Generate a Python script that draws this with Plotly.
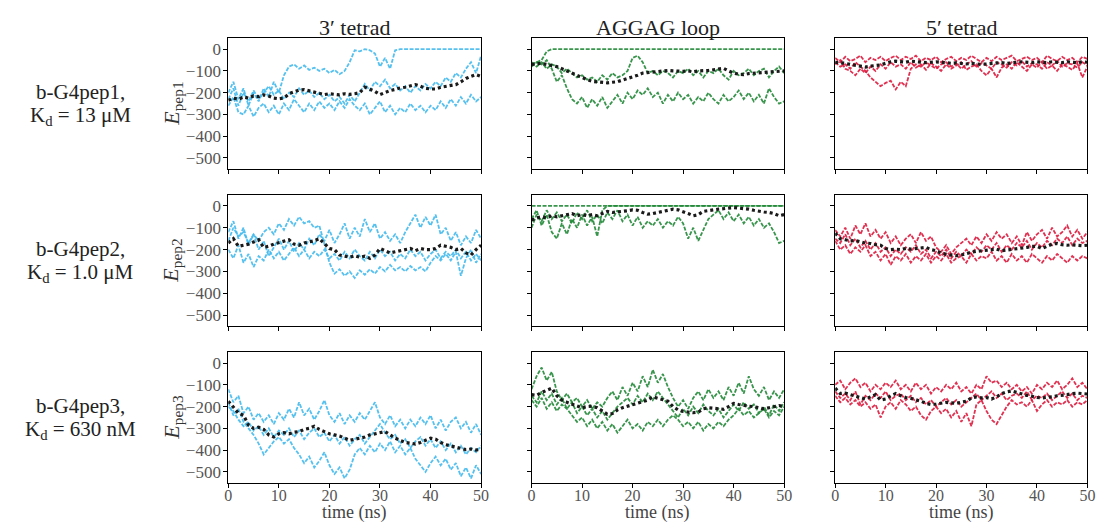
import plotly.graph_objects as go

# ---------------- data ----------------
time_ns = list(range(51))
x_ticks = [0, 10, 20, 30, 40, 50]
y_ticks = [0, -100, -200, -300, -400, -500]
col_titles = ["3\u2032 tetrad", "AGGAG loop", "5\u2032 tetrad"]
row_line1 = ["b-G4pep1,", "b-G4pep2,", "b-G4pep3,"]
row_line2 = ["K<sub>d</sub> = 13 \u03bcM", "K<sub>d</sub> = 1.0 \u03bcM", "K<sub>d</sub> = 630 nM"]
y_titles = ["<i>E</i><sub>pep1</sub>", "<i>E</i><sub>pep2</sub>", "<i>E</i><sub>pep3</sub>"]

# row 1 : b-G4pep1
pep1_3p_a = [-200,-150,-230,-180,-260,-200,-240,-180,-220,-150,
             -200,-120,-80,-70,-90,-75,-95,-85,-100,-90,
             -110,-95,-115,-100,-60,-5,-10,0,-5,-20,
             -80,-40,-90,-5,0,0,0,0,0,0,
             0,0,0,0,0,0,0,0,0,0,0]
pep1_3p_b = [-230,-180,-260,-200,-240,-190,-230,-200,-170,-210,
             -190,-230,-200,-220,-180,-210,-190,-220,-200,-230,
             -210,-240,-220,-250,-210,-240,-200,-160,-190,-150,
             -170,-140,-180,-160,-190,-170,-200,-170,-190,-160,
             -180,-150,-170,-130,-150,-110,-130,-90,-60,-110,-30]
pep1_3p_c = [-260,-220,-290,-300,-260,-310,-270,-250,-290,-260,
             -300,-250,-280,-230,-260,-290,-250,-280,-240,-270,
             -250,-280,-240,-270,-230,-260,-280,-250,-300,-270,
             -240,-290,-260,-300,-270,-290,-250,-280,-260,-290,
             -260,-280,-240,-270,-230,-260,-220,-250,-210,-240,-220]
pep1_3p_mean = [-235,-225,-230,-220,-225,-215,-218,-210,-215,-225,
                -228,-225,-205,-195,-188,-186,-192,-200,-205,-209,
                -205,-208,-210,-205,-208,-205,-200,-175,-185,-194,
                -209,-200,-190,-185,-178,-175,-168,-163,-170,-180,
                -183,-183,-175,-171,-168,-163,-150,-135,-125,-117,-125]

pep1_loop_a = [-70,-60,-50,-10,0,0,0,0,0,0,
               0,0,0,0,0,0,0,0,0,0,
               0,0,0,0,0,0,0,0,0,0,
               0,0,0,0,0,0,0,0,0,0,
               0,0,0,0,0,0,0,0,0,0,0]
pep1_loop_b = [-60,-80,-60,-90,-70,-80,-110,-90,-110,-130,
               -120,-140,-130,-150,-120,-140,-110,-130,-120,-100,
               -40,-30,-60,-110,-100,-120,-100,-110,-130,-100,
               -110,-90,-120,-100,-130,-100,-110,-90,-120,-140,
               -100,-120,-110,-90,-120,-100,-90,-130,-100,-80,-110]
pep1_loop_c = [-80,-60,-70,-50,-90,-150,-120,-180,-230,-250,
               -220,-270,-230,-260,-220,-270,-240,-210,-250,-200,
               -230,-190,-210,-180,-220,-200,-250,-210,-240,-200,
               -230,-210,-250,-220,-240,-200,-230,-250,-210,-240,
               -220,-190,-230,-200,-240,-210,-250,-180,-220,-250,-240]
pep1_loop_mean = [-70,-68,-65,-70,-75,-80,-90,-100,-112,-122,
                  -130,-140,-148,-150,-153,-155,-152,-150,-142,-135,
                  -128,-120,-110,-108,-105,-103,-100,-98,-100,-102,
                  -102,-100,-104,-100,-100,-98,-95,-92,-88,-100,
                  -110,-115,-117,-112,-110,-110,-108,-105,-105,-100,-100]

pep1_5p_a = [-40,-60,-35,-55,-45,-30,-60,-40,-50,-35,
             -55,-40,-30,-50,-35,-45,-30,-55,-40,-50,
             -35,-60,-45,-35,-55,-40,-50,-30,-45,-60,
             -40,-55,-35,-50,-40,-30,-55,-45,-35,-50,
             -40,-60,-30,-45,-55,-35,-50,-40,-60,-35,-45]
pep1_5p_b = [-70,-50,-90,-100,-120,-90,-110,-80,-100,-70,
             -90,-60,-80,-70,-90,-60,-85,-70,-95,-65,
             -80,-100,-70,-90,-75,-60,-95,-80,-70,-100,
             -120,-90,-130,-85,-70,-90,-60,-80,-100,-70,
             -85,-60,-90,-75,-100,-70,-80,-95,-65,-130,-80]
pep1_5p_c = [-60,-80,-70,-90,-60,-80,-100,-130,-150,-170,
             -155,-145,-185,-150,-170,-90,-70,-80,-60,-75,
             -90,-70,-60,-80,-65,-90,-70,-55,-80,-65,
             -75,-90,-60,-70,-85,-60,-75,-55,-80,-65,
             -70,-90,-60,-75,-55,-80,-65,-70,-85,-60,-75]
pep1_5p_mean = [-60,-62,-65,-70,-75,-80,-82,-78,-75,-72,
                -65,-58,-55,-58,-60,-55,-58,-60,-62,-60,
                -58,-60,-62,-65,-63,-66,-68,-65,-68,-70,
                -68,-66,-65,-62,-66,-62,-60,-58,-60,-62,
                -58,-60,-62,-58,-60,-62,-58,-60,-62,-58,-60]

# row 2 : b-G4pep2
pep2_3p_a = [-160,-100,-140,-120,-170,-130,-160,-120,-100,-130,
             -80,-110,-60,-90,-50,-80,-70,-100,-90,-180,
             -260,-310,-290,-320,-300,-330,-295,-315,-290,-310,
             -280,-300,-270,-295,-280,-300,-275,-295,-280,-300,
             -260,-230,-250,-220,-250,-210,-320,-240,-200,-260,-220]
pep2_3p_b = [-200,-240,-180,-260,-220,-280,-230,-250,-200,-240,
             -210,-250,-220,-190,-230,-200,-240,-210,-230,-200,
             -240,-220,-250,-210,-240,-200,-230,-250,-210,-240,
             -200,-230,-210,-250,-220,-240,-200,-230,-210,-250,
             -220,-200,-240,-210,-230,-200,-240,-210,-250,-220,-250]
pep2_3p_c = [-120,-70,-150,-100,-180,-130,-200,-160,-230,-190,
             -150,-200,-160,-210,-170,-200,-150,-180,-130,-160,
             -110,-170,-130,-80,-150,-100,-140,-60,-120,-80,
             -150,-120,-160,-130,-170,-120,-80,-40,-100,-50,
             -90,-40,-130,-100,-160,-120,-180,-140,-170,-110,-150]
pep2_3p_mean = [-170,-150,-185,-180,-175,-165,-155,-190,-185,-175,
                -168,-160,-155,-175,-180,-170,-165,-160,-150,-175,
                -195,-200,-225,-230,-235,-228,-235,-230,-240,-225,
                -195,-205,-215,-210,-205,-200,-195,-205,-195,-200,
                -200,-195,-180,-185,-190,-200,-195,-215,-225,-200,-180]

pep2_loop_a = [0,0,0,0,0,0,0,0,0,0,
               0,0,0,0,0,0,0,0,0,0,
               0,0,0,0,0,0,0,0,0,0,
               0,0,0,0,0,0,0,0,0,0,
               0,0,0,0,0,0,0,0,0,0,0]
pep2_loop_b = [-60,-20,-90,-40,-120,-150,-80,-130,-60,-100,
               -40,-90,-50,-140,-20,0,0,0,0,0,
               0,0,0,0,0,0,0,0,0,0,
               0,0,0,0,0,0,0,0,0,0,
               0,0,0,0,0,0,0,0,0,0,0]
pep2_loop_c = [-100,-40,-70,-20,-60,-30,-70,-40,-80,-30,
               -60,-20,-70,-40,-80,-30,-60,-20,-70,-40,
               -90,-50,-100,-70,-90,-60,-100,-70,-90,-50,
               -80,-150,-100,-160,-110,-60,-40,-20,-60,-30,
               -70,-40,-80,-50,-90,-60,-100,-80,-120,-170,-160]
pep2_loop_mean = [-65,-55,-50,-55,-45,-50,-45,-40,-35,-45,
                  -40,-45,-40,-45,-35,-25,-30,-28,-25,-22,
                  -18,-20,-30,-38,-35,-30,-25,-20,-15,-18,
                  -25,-35,-45,-40,-25,-20,-18,-15,-12,-10,
                  -8,-10,-12,-15,-20,-25,-28,-30,-35,-45,-40]

pep2_5p_a = [-110,-140,-100,-150,-90,-130,-80,-140,-110,-150,
             -120,-170,-140,-180,-150,-130,-170,-120,-160,-140,
             -190,-210,-180,-220,-190,-170,-150,-180,-140,-170,
             -130,-160,-120,-150,-130,-170,-140,-180,-120,-160,
             -130,-110,-150,-100,-140,-120,-90,-140,-110,-150,-120]
pep2_5p_b = [-150,-170,-130,-180,-150,-190,-160,-200,-170,-210,
             -190,-230,-200,-220,-190,-210,-180,-220,-200,-240,
             -210,-230,-200,-240,-210,-230,-200,-220,-190,-210,
             -180,-200,-170,-210,-180,-200,-170,-190,-160,-200,
             -170,-190,-160,-180,-150,-170,-140,-180,-150,-170,-160]
pep2_5p_c = [-160,-200,-180,-220,-190,-210,-180,-230,-210,-250,
             -220,-270,-230,-250,-220,-260,-230,-250,-220,-260,
             -230,-250,-220,-260,-240,-230,-260,-220,-250,-230,
             -240,-210,-250,-230,-260,-220,-250,-230,-260,-220,
             -240,-260,-230,-250,-220,-240,-260,-230,-250,-230,-240]
pep2_5p_mean = [-125,-150,-155,-160,-158,-165,-170,-172,-178,-180,
                -195,-200,-198,-200,-195,-198,-195,-192,-190,-200,
                -205,-215,-222,-225,-228,-225,-218,-212,-208,-205,
                -202,-200,-198,-205,-202,-200,-198,-195,-190,-185,
                -185,-195,-185,-175,-172,-178,-180,-178,-180,-182,-180]

# row 3 : b-G4pep3
pep3_3p_a = [-120,-180,-150,-230,-200,-260,-230,-270,-240,-280,
             -230,-260,-210,-250,-180,-240,-210,-260,-220,-170,
             -240,-270,-230,-280,-240,-270,-230,-260,-220,-180,
             -250,-280,-240,-290,-260,-300,-260,-290,-250,-280,
             -240,-300,-260,-310,-270,-250,-300,-270,-320,-280,-330]
pep3_3p_b = [-200,-220,-260,-290,-270,-310,-290,-330,-300,-340,
             -310,-330,-300,-340,-310,-350,-320,-300,-340,-320,
             -360,-330,-370,-340,-380,-350,-330,-370,-340,-310,
             -280,-320,-350,-330,-370,-350,-390,-360,-340,-380,
             -350,-390,-360,-400,-370,-410,-380,-420,-390,-410,-380]
pep3_3p_c = [-180,-240,-210,-270,-300,-330,-370,-420,-390,-360,
             -340,-370,-350,-390,-420,-460,-430,-480,-450,-410,
             -470,-510,-480,-530,-490,-420,-390,-420,-380,-410,
             -370,-400,-360,-410,-380,-420,-390,-440,-470,-500,
             -460,-430,-470,-440,-490,-460,-520,-480,-530,-470,-510]
pep3_3p_mean = [-175,-205,-230,-240,-285,-300,-295,-305,-330,-340,
                -325,-320,-325,-318,-315,-305,-300,-290,-305,-315,
                -325,-330,-335,-345,-355,-350,-345,-340,-330,-325,
                -320,-315,-330,-345,-355,-365,-368,-372,-365,-355,
                -345,-350,-365,-375,-380,-385,-392,-398,-395,-400,-395]

pep3_loop_a = [-120,-60,-20,-80,-40,-130,-170,-140,-180,-160,
               -200,-170,-210,-180,-200,-160,-130,-170,-110,-150,
               -90,-130,-60,-110,-30,-90,-50,-110,-160,-200,
               -170,-210,-160,-130,-170,-120,-160,-130,-170,-110,
               -150,-90,-140,-60,-120,-150,-110,-170,-130,-160,-120]
pep3_loop_b = [-150,-180,-130,-170,-140,-190,-160,-210,-180,-230,
               -200,-240,-210,-250,-220,-260,-230,-200,-180,-160,
               -190,-150,-180,-140,-170,-130,-160,-190,-220,-250,
               -210,-240,-200,-230,-190,-220,-240,-210,-250,-220,
               -190,-220,-180,-210,-190,-230,-200,-240,-190,-220,-180]
pep3_loop_c = [-170,-200,-160,-210,-180,-220,-190,-210,-240,-270,
               -250,-290,-260,-300,-270,-310,-280,-320,-290,-260,
               -300,-280,-310,-270,-290,-260,-290,-260,-240,-260,
               -290,-270,-300,-270,-310,-280,-300,-270,-290,-260,
               -240,-210,-240,-220,-250,-230,-210,-250,-220,-240,-200]
pep3_loop_mean = [-145,-148,-135,-125,-115,-150,-170,-180,-188,-195,
                  -205,-200,-198,-205,-220,-235,-232,-215,-205,-198,
                  -190,-183,-178,-170,-155,-160,-168,-175,-200,-215,
                  -222,-225,-228,-225,-210,-205,-208,-210,-212,-200,
                  -185,-190,-195,-198,-200,-205,-210,-205,-200,-195,-200]

pep3_5p_a = [-100,-80,-120,-90,-70,-110,-90,-130,-100,-120,
             -90,-110,-80,-120,-100,-130,-90,-120,-100,-140,
             -110,-130,-100,-120,-90,-130,-110,-140,-100,-120,
             -60,-90,-80,-110,-90,-120,-100,-130,-110,-140,
             -100,-120,-90,-110,-80,-120,-100,-70,-110,-90,-120]
pep3_5p_b = [-130,-160,-140,-170,-130,-190,-150,-170,-140,-160,
             -130,-170,-150,-140,-170,-150,-180,-160,-190,-170,
             -200,-180,-160,-190,-170,-200,-180,-160,-140,-170,
             -150,-130,-160,-140,-170,-150,-140,-160,-130,-170,
             -150,-160,-140,-170,-150,-130,-160,-140,-170,-150,-160]
pep3_5p_c = [-150,-180,-160,-190,-170,-200,-180,-210,-190,-250,
             -200,-180,-210,-170,-190,-220,-200,-240,-260,-220,
             -200,-230,-210,-250,-220,-270,-230,-290,-190,-170,
             -220,-260,-280,-240,-200,-170,-190,-180,-200,-170,
             -220,-190,-170,-200,-180,-190,-170,-200,-180,-190,-170]
pep3_5p_mean = [-115,-140,-138,-145,-150,-158,-165,-155,-145,-170,
                -165,-150,-140,-150,-158,-162,-168,-175,-185,-190,
                -188,-185,-180,-183,-185,-180,-175,-160,-155,-160,
                -158,-165,-155,-140,-132,-128,-135,-142,-148,-152,
                -158,-160,-158,-155,-150,-148,-145,-140,-138,-140,-142]

# ---------------- figure ----------------
# the page body has an 8px margin, so the figure is made 8px smaller and every
# pixel position below (measured on the 1104x525 screenshot) is shifted by it
OFF = 8
W, H = 1104 - OFF, 525 - OFF
col_colors = ["#44BBEE", "#248A3A", "#DD1B3F"]
col_px = [(226.7, 482.3), (533.3, 788.7), (840.3, 1095.3)]
row_px = [(38.3, 168.8), (195.0, 326.0), (352.3, 482.7)]
FONT = "Liberation Serif"


def fx(px):
    return (px - OFF) / W


def fy(py):
    return 1 - (py - OFF) / H


panels = [
    (0, 0, [pep1_3p_a, pep1_3p_b, pep1_3p_c], pep1_3p_mean),
    (0, 1, [pep1_loop_a, pep1_loop_b, pep1_loop_c], pep1_loop_mean),
    (0, 2, [pep1_5p_a, pep1_5p_b, pep1_5p_c], pep1_5p_mean),
    (1, 0, [pep2_3p_a, pep2_3p_b, pep2_3p_c], pep2_3p_mean),
    (1, 1, [pep2_loop_a, pep2_loop_b, pep2_loop_c], pep2_loop_mean),
    (1, 2, [pep2_5p_a, pep2_5p_b, pep2_5p_c], pep2_5p_mean),
    (2, 0, [pep3_3p_a, pep3_3p_b, pep3_3p_c], pep3_3p_mean),
    (2, 1, [pep3_loop_a, pep3_loop_b, pep3_loop_c], pep3_loop_mean),
    (2, 2, [pep3_5p_a, pep3_5p_b, pep3_5p_c], pep3_5p_mean),
]
for _, _, reps, mean in panels:
    for arr in reps + [mean]:
        assert len(arr) == len(time_ns), len(arr)

fig = go.Figure()
layout = {}
for i, (r, c, reps, mean) in enumerate(panels):
    k = i + 1
    sx = "" if k == 1 else str(k)
    xa, ya = "x" + sx, "y" + sx
    for rep in reps:
        fig.add_trace(go.Scatter(
            x=time_ns, y=rep, mode="lines", xaxis=xa, yaxis=ya,
            line=dict(color=col_colors[c], width=1.8, dash="4px,1.5px"),
            opacity=0.9, showlegend=False, hoverinfo="skip"))
    fig.add_trace(go.Scatter(
        x=time_ns, y=mean, mode="lines", xaxis=xa, yaxis=ya,
        line=dict(color="#1a1a1a", width=3.2, dash="3px,3px"),
        showlegend=False, hoverinfo="skip"))
    x0, x1 = col_px[c]
    y0, y1 = row_px[r]
    common = dict(showline=True, linecolor="black", linewidth=1, mirror=True,
                  showgrid=False, zeroline=False, ticks="outside", ticklen=4,
                  tickcolor="black", tickwidth=1)
    layout["xaxis" + sx] = dict(domain=[fx(x0), fx(x1)], anchor=ya, range=[0, 50],
                                tickvals=x_ticks, showticklabels=(r == 2),
                                ticklabelstandoff=-6,
                                tickfont=dict(family=FONT, size=16, color="#555"),
                                **common)
    layout["yaxis" + sx] = dict(domain=[fy(y1), fy(y0)], anchor=xa,
                                range=[-550, 50], tickvals=y_ticks,
                                showticklabels=(c == 0), ticklabelstandoff=-1,
                                tickfont=dict(family=FONT, size=17, color="#555"),
                                **common)

ann = []
for c in range(3):
    cx = fx((col_px[c][0] + col_px[c][1]) / 2)
    ann.append(dict(x=cx, y=fy(27), text=col_titles[c], showarrow=False,
                    xref="paper", yref="paper", xanchor="center", yanchor="middle",
                    font=dict(family=FONT, size=22, color="#222")))
    ann.append(dict(x=cx, y=fy(525), text="time (ns)", showarrow=False,
                    xref="paper", yref="paper", xanchor="center", yanchor="bottom",
                    font=dict(family=FONT, size=18, color="#444")))
for r in range(3):
    cy = (row_px[r][0] + row_px[r][1]) / 2
    ann.append(dict(x=fx(77), y=fy(cy - 12), text=row_line1[r], showarrow=False,
                    xref="paper", yref="paper", xanchor="center", yanchor="middle",
                    font=dict(family=FONT, size=21, color="#222")))
    ann.append(dict(x=fx(77), y=fy(cy + 12), text=row_line2[r], showarrow=False,
                    xref="paper", yref="paper", xanchor="center", yanchor="middle",
                    font=dict(family=FONT, size=21, color="#222")))
    ann.append(dict(x=fx(170), y=fy(cy), text=y_titles[r], showarrow=False,
                    textangle=-90, xref="paper", yref="paper",
                    xanchor="center", yanchor="middle",
                    font=dict(family=FONT, size=22, color="#333")))

fig.update_layout(width=W, height=H, margin=dict(l=0, r=0, t=0, b=0),
                  paper_bgcolor="white", plot_bgcolor="white",
                  annotations=ann, **layout)
fig.write_html("out.html")
